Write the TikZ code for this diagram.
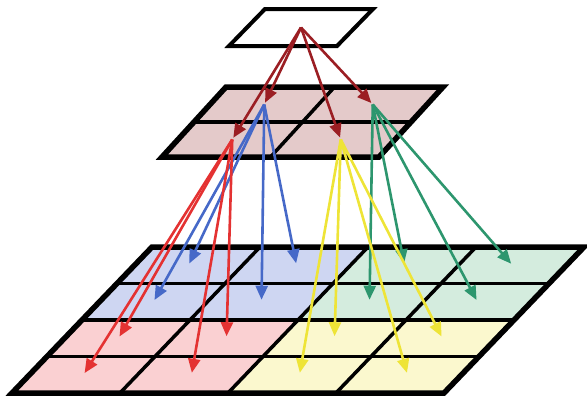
\documentclass[tikz,border=0pt]{standalone}
\usetikzlibrary{arrows.meta}
\definecolor{dred}{RGB}{155,30,35}
\definecolor{ared}{RGB}{228,50,50}
\definecolor{ablue}{RGB}{70,105,200}
\definecolor{ayel}{RGB}{238,228,55}
\definecolor{agreen}{RGB}{45,150,110}
\definecolor{fmid}{RGB}{228,202,202}
\definecolor{fblue}{RGB}{206,214,242}
\definecolor{fgreen}{RGB}{212,236,222}
\definecolor{fred}{RGB}{250,208,210}
\definecolor{fyel}{RGB}{251,248,206}
\begin{document}
\begin{tikzpicture}[x=1pt,y=-1pt,
  outer/.style={line width=5.5pt, line join=miter},
  inner/.style={line width=3.5pt},
  arr/.style={line width=2.6pt, shorten >=2pt, -{Triangle[length=14pt,width=12pt]}}]
\useasboundingbox (0,0) rectangle (587,397);
% bottom grid
\begin{scope}[shift={(152pt,-247pt)}, x={(108pt,0pt)}, y={(-35pt,-36.5pt)}]
  \fill[fblue] (0,0)--(2,0)--(2,2)--(0,2)--cycle;
  \fill[fgreen] (2,0)--(4,0)--(4,2)--(2,2)--cycle;
  \fill[fred] (0,2)--(2,2)--(2,4)--(0,4)--cycle;
  \fill[fyel] (2,2)--(4,2)--(4,4)--(2,4)--cycle;
  \foreach \i in {1,2,3} {\draw[inner] (\i,0)--(\i,4); \draw[inner] (0,\i)--(4,\i);}
  \draw[outer] (0,0)--(4,0)--(4,4)--(0,4)--cycle;
  \foreach \a in {0,...,3} {\foreach \b in {0,...,3} {\coordinate (b\a\b) at (\a+0.5,\b+0.5);}}
\end{scope}
% middle plane
\begin{scope}[shift={(226pt,-87pt)}, x={(108.5pt,0pt)}, y={(-32pt,-35pt)}]
  \fill[fmid] (0,0)--(2,0)--(2,2)--(0,2)--cycle;
  \draw[inner] (1,0)--(1,2);
  \draw[inner] (0,1)--(2,1);
  \draw[outer] (0,0)--(2,0)--(2,2)--(0,2)--cycle;
  \foreach \a in {0,1} {\foreach \b in {0,1} {\coordinate (m\a\b) at (\a+0.5,\b+0.5);}}
\end{scope}
% top plane
\begin{scope}[shift={(265pt,-9pt)}, x={(108pt,0pt)}, y={(-36pt,-37pt)}]
  \filldraw[fill=white, line width=4pt, line join=miter] (0,0)--(1,0)--(1,1)--(0,1)--cycle;
  \coordinate (t) at (0.5,0.5);
\end{scope}
% arrows
\foreach \t in {b00,b10,b01,b11} \draw[arr,ablue] (m00) -- (\t);
\foreach \t in {b20,b30,b21,b31} \draw[arr,agreen] (m10) -- (\t);
\foreach \t in {b02,b12,b03,b13} \draw[arr,ared] (m01) -- (\t);
\foreach \t in {b22,b32,b23,b33} \draw[arr,ayel] (m11) -- (\t);
\foreach \t in {m00,m10,m01,m11} \draw[arr,dred] (t) -- (\t);
\end{tikzpicture}
\end{document}
